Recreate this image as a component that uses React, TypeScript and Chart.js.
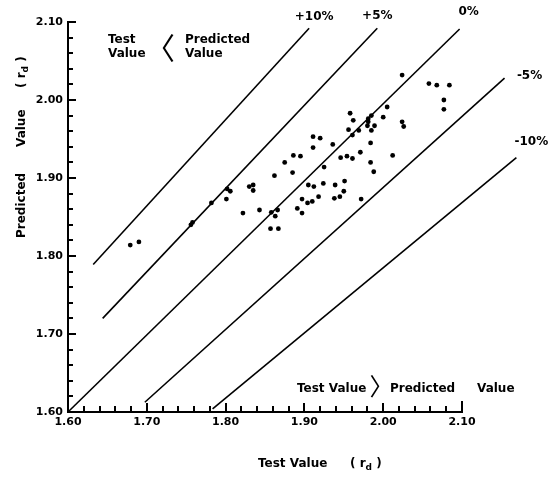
import React, { useEffect, useRef } from 'react';
import { Chart, registerables } from 'chart.js';

Chart.register(...registerables);

// Measured points: test value (x) vs predicted value (y), in r_d
const testValues = [
  1.679, 1.690, 1.756, 1.758, 1.782, 1.802, 1.806, 1.801, 1.822, 1.830,
  1.835, 1.835, 1.843, 1.858, 1.866, 1.863, 1.857, 1.867, 1.862, 1.875,
  1.885, 1.886, 1.895, 1.911, 1.920, 1.911, 1.936, 1.925, 1.905, 1.912,
  1.924, 1.939, 1.918, 1.897, 1.910, 1.904, 1.938, 1.891, 1.897, 2.024,
  2.058, 2.068, 2.084, 2.077, 2.077, 2.005, 1.958, 1.962, 1.981, 1.981,
  1.985, 2.000, 2.024, 2.026, 1.980, 1.989, 1.969, 1.956, 1.961, 1.985,
  1.984, 1.946, 1.954, 1.961, 1.971, 2.012, 1.984, 1.988, 1.951, 1.950,
  1.945, 1.972,
];
const predictedValues = [
  1.814, 1.818, 1.840, 1.843, 1.868, 1.886, 1.883, 1.873, 1.855, 1.889,
  1.891, 1.884, 1.859, 1.856, 1.859, 1.851, 1.835, 1.835, 1.903, 1.920,
  1.907, 1.929, 1.928, 1.953, 1.951, 1.939, 1.943, 1.914, 1.891, 1.889,
  1.893, 1.891, 1.876, 1.873, 1.870, 1.868, 1.874, 1.861, 1.855, 2.032,
  2.021, 2.019, 2.019, 2.000, 1.988, 1.991, 1.983, 1.974, 1.976, 1.972,
  1.980, 1.978, 1.972, 1.966, 1.967, 1.967, 1.961, 1.962, 1.955, 1.961,
  1.945, 1.926, 1.928, 1.925, 1.933, 1.929, 1.920, 1.908, 1.896, 1.883,
  1.876, 1.873,
];

// Percentage reference lines (end points)
const refLineLabels = ['+10%', '+5%', '0%', '-5%', '-10%'];
const refLineStartX = [1.632, 1.644, 1.600, 1.6975, 1.7835];
const refLineStartY = [1.789, 1.720, 1.600, 1.6125, 1.604];
const refLineEndX = [1.906, 1.9925, 2.097, 2.154, 2.169];
const refLineEndY = [2.092, 2.092, 2.091, 2.028, 1.926];

const axisTickLabels = ['1.60', '1.70', '1.80', '1.90', '2.00', '2.10'];
const minorTickValues = [
  1.62, 1.64, 1.66, 1.68, 1.70, 1.72, 1.74, 1.76, 1.78, 1.80, 1.82, 1.84, 1.86,
  1.88, 1.90, 1.92, 1.94, 1.96, 1.98, 2.00, 2.02, 2.04, 2.06, 2.08, 2.10,
];

const FAMILY = '"DejaVu Sans", Verdana, sans-serif';
const bold = (size: number) => `bold ${size}px ${FAMILY}`;

type Run = { text: string; font: string; dy?: number };

function drawRuns(ctx: CanvasRenderingContext2D, runs: Run[], x: number, y: number) {
  let cx = x;
  for (const r of runs) {
    ctx.font = r.font;
    ctx.fillText(r.text, cx, y + (r.dy || 0));
    cx += ctx.measureText(r.text).width;
  }
}

// thin angle bracket (CJK form), centred at (cx, cy)
function drawBracket(ctx: CanvasRenderingContext2D, ch: string, cx: number, cy: number, size: number) {
  ctx.save();
  ctx.font = `${size}px "Noto Sans CJK JP", "Noto Sans CJK SC", sans-serif`;
  ctx.textAlign = 'left';
  ctx.textBaseline = 'alphabetic';
  const m = ctx.measureText(ch);
  const left = -m.actualBoundingBoxLeft;
  const right = m.actualBoundingBoxRight;
  const top = -m.actualBoundingBoxAscent;
  const bottom = m.actualBoundingBoxDescent;
  ctx.fillText(ch, cx - (left + right) / 2, cy - (top + bottom) / 2);
  ctx.restore();
}

const labelOffsets = [
  [5, -11],
  [0, -12],
  [9, -17],
  [25, -2],
  [15, -16],
];

const decorPlugin = {
  id: 'decor',
  afterDraw(chart: any) {
    const ctx: CanvasRenderingContext2D = chart.ctx;
    const xs = chart.scales.x;
    const ys = chart.scales.y;
    const area = chart.chartArea;
    ctx.save();

    // inward tick marks along both axes (minor 0.02, major 0.10)
    ctx.fillStyle = 'rgb(0,0,0)';
    minorTickValues.forEach((v, i) => {
      const major = (i + 1) % 5 === 0;
      const px = Math.round(xs.getPixelForValue(v));
      const lx = major ? (i === minorTickValues.length - 1 ? 11 : 9) : 6;
      ctx.fillRect(px - 1, area.bottom - lx, 2, lx);
      const py = Math.round(ys.getPixelForValue(v));
      const ly = major ? 8 : 5;
      ctx.fillRect(area.left, py - 1, ly, 2);
    });

    ctx.fillStyle = '#000';
    // labels of the percentage lines
    ctx.font = bold(12);
    ctx.textAlign = 'center';
    ctx.textBaseline = 'middle';
    refLineLabels.forEach((lab, i) => {
      const ex = xs.getPixelForValue(refLineEndX[i]);
      const ey = ys.getPixelForValue(refLineEndY[i]);
      ctx.fillText(lab, ex + labelOffsets[i][0], ey + labelOffsets[i][1]);
    });

    // region annotations
    ctx.textAlign = 'left';
    ctx.textBaseline = 'alphabetic';
    ctx.font = bold(12);
    ctx.fillText('Test', 108, 43);
    ctx.fillText('Value', 108, 57);
    ctx.fillText('Predicted', 185, 43);
    ctx.fillText('Value', 185, 57);
    drawBracket(ctx, '\u3008', 168, 48, 30);

    ctx.font = bold(12);
    ctx.fillText('Test Value', 297, 392);
    ctx.fillText('Predicted', 390, 392);
    ctx.fillText('Value', 477, 392);
    drawBracket(ctx, '\u3009', 375, 386, 24);

    // x axis title
    drawRuns(ctx, [{ text: 'Test Value', font: bold(12) }], 258, 467);
    drawRuns(ctx, [
      { text: '( r', font: bold(12) },
      { text: 'd', font: bold(9), dy: 3 },
      { text: ' )', font: bold(12) },
    ], 350, 467);

    // y axis title (vertical)
    ctx.save();
    ctx.translate(25, 238);
    ctx.rotate(-Math.PI / 2);
    drawRuns(ctx, [{ text: 'Predicted', font: bold(12) }], 0, 0);
    drawRuns(ctx, [{ text: 'Value', font: bold(12) }], 91, 0);
    drawRuns(ctx, [
      { text: '( r', font: bold(12) },
      { text: 'd', font: bold(9), dy: 3 },
      { text: ' )', font: bold(12) },
    ], 150, 0);
    ctx.restore();

    ctx.restore();
  },
};

export default function App() {
  const ref = useRef<HTMLCanvasElement | null>(null);

  useEffect(() => {
    if (!ref.current) return;
    const tickSet = (s: any) => {
      s.ticks = axisTickLabels.map((t) => ({ value: parseFloat(t) }));
    };
    const tickFmt = (v: any) => Number(v).toFixed(2);
    const chart = new Chart(ref.current, {
      type: 'scatter',
      data: {
        datasets: [
          ...refLineLabels.map((label, i) => ({
            label,
            data: [
              { x: refLineStartX[i], y: refLineStartY[i] },
              { x: refLineEndX[i], y: refLineEndY[i] },
            ],
            showLine: true,
            borderColor: '#000',
            borderWidth: 1.6,
            pointRadius: 0,
            fill: false,
            clip: false as any,
          })),
          {
            label: 'Test vs Predicted',
            data: testValues.map((v, i) => ({ x: v, y: predictedValues[i] })),
            showLine: false,
            pointRadius: 2.4,
            pointBackgroundColor: '#000',
            pointBorderWidth: 0,
            clip: false as any,
          },
        ],
      },
      options: {
        animation: false,
        responsive: false,
        events: [],
        layout: { padding: { top: 22, right: 89, left: 0, bottom: 0 } },
        plugins: { legend: { display: false }, tooltip: { enabled: false } },
        scales: {
          x: {
            type: 'linear',
            min: 1.6,
            max: 2.1,
            afterBuildTicks: tickSet,
            afterFit: (s: any) => {
              s.height = 65;
            },
            ticks: {
              callback: tickFmt,
              font: { family: FAMILY, size: 11, weight: 'bold' },
              color: '#000',
              padding: 4,
              maxRotation: 0,
              autoSkip: false,
            },
            grid: { display: false, drawTicks: false },
            border: { display: true, color: '#000', width: 2 },
          },
          y: {
            type: 'linear',
            min: 1.6,
            max: 2.1,
            afterBuildTicks: tickSet,
            afterFit: (s: any) => {
              s.width = 68;
            },
            ticks: {
              callback: tickFmt,
              font: { family: FAMILY, size: 11, weight: 'bold' },
              color: '#000',
              padding: 5,
              autoSkip: false,
            },
            grid: { display: false, drawTicks: false },
            border: { display: true, color: '#000', width: 2 },
          },
        },
      } as any,
      plugins: [decorPlugin],
    });
    return () => chart.destroy();
  }, []);

  return (
    <canvas
      ref={ref}
      width={551}
      height={477}
      style={{ position: 'absolute', left: 0, top: 0, width: 551, height: 477, background: '#fff' }}
    />
  );
}
